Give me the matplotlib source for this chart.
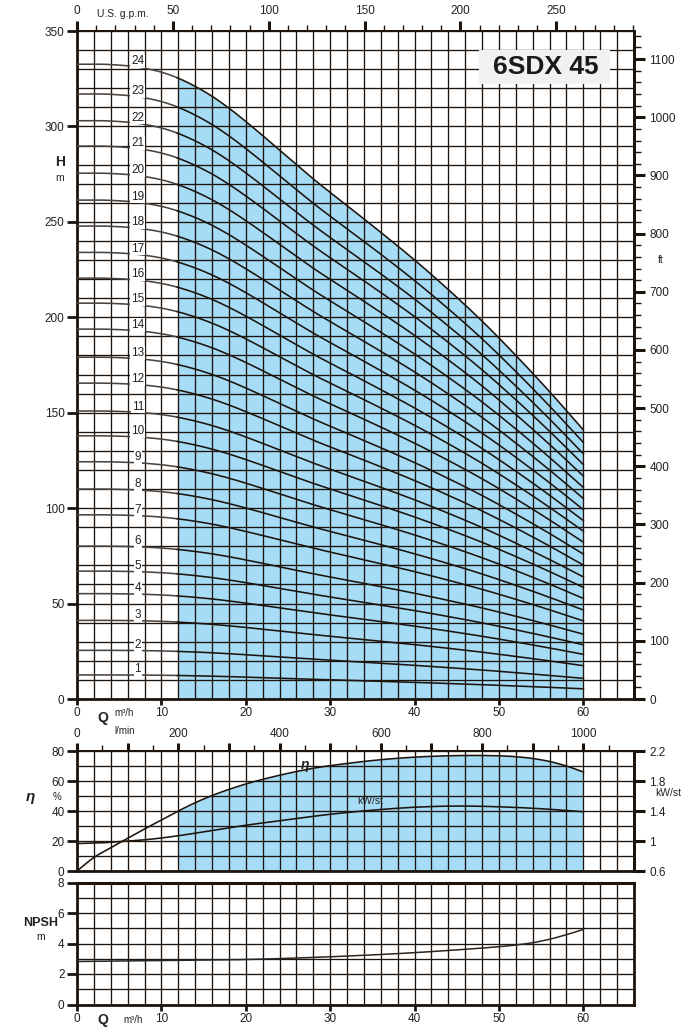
import numpy as np
import matplotlib
matplotlib.use('Agg')
import matplotlib.pyplot as plt
from matplotlib.patches import Rectangle
from matplotlib.ticker import FixedLocator, FuncFormatter

plt.rcParams['font.family'] = ['Liberation Sans', 'DejaVu Sans']

# ---------------- data ----------------
stages = list(range(1, 25))
shutoff_head = [12.6, 25.5, 41.2, 55.2, 67.0, 80.1, 96.5, 110.0, 124.3, 137.9,
                150.9, 165.5, 179.1, 193.8, 207.4, 220.5, 234.0, 247.8, 261.4,
                275.5, 289.7, 303.0, 317.0, 332.6]
# head curve of the 24-stage pump (m) vs Q (m3/h)
q_top = [0, 4, 8, 11, 14, 16, 18, 20, 22, 24, 26, 28, 32, 36, 40, 44, 48, 52, 56, 60]
h_top = [332.6, 332.4, 330.5, 327.0, 321.0, 315.8, 309.6, 302.6, 295.2, 287.6,
         280.0, 272.5, 258.5, 244.5, 230.0, 214.5, 198.0, 180.0, 161.0, 141.0]

# efficiency (%)
q_eta = [0, 2, 4, 6, 8, 10, 12, 14, 16, 18, 20, 23, 26, 28, 32, 36, 40, 44,
         48, 52, 54, 56, 58, 60]
eta = [0, 9.0, 15.5, 21.8, 28.0, 34.0, 40.0, 45.5, 50.3, 54.4, 58.0, 62.5, 66.3,
       68.5, 71.7, 74.2, 75.9, 76.8, 77.0, 76.2, 75.0, 73.0, 70.0, 66.0]
# power per stage (kW/st)
q_kw = [0, 3, 5.5, 8, 10, 12, 16, 20, 24, 28, 32, 36, 40, 45, 50, 55, 60]
kw_st = [0.966, 0.976, 0.996, 1.016, 1.04, 1.07, 1.14, 1.21, 1.27, 1.33, 1.38,
         1.42, 1.45, 1.466, 1.456, 1.43, 1.39]
# NPSH (m)
q_npsh = [0, 10, 20, 30, 40, 45, 48, 50, 52, 54, 56, 58, 60]
npsh = [2.82, 2.88, 2.95, 3.13, 3.40, 3.58, 3.70, 3.79, 3.90, 4.05, 4.28, 4.58, 4.92]

model = '6SDX 45'
Q_MIN, Q_MAX = 12, 60
BLUE = '#a6dcf6'
INK = '#1c140d'


def smooth(xs, ys, n=500):
    xs = np.asarray(xs, float)
    ys = np.asarray(ys, float)
    m = np.gradient(ys, xs)
    xx = np.linspace(xs[0], xs[-1], n)
    i = np.clip(np.searchsorted(xs, xx, side='right') - 1, 0, len(xs) - 2)
    h = xs[i + 1] - xs[i]
    t = (xx - xs[i]) / h
    h00 = 2 * t**3 - 3 * t**2 + 1
    h10 = t**3 - 2 * t**2 + t
    h01 = -2 * t**3 + 3 * t**2
    h11 = t**3 - t**2
    yy = h00 * ys[i] + h10 * h * m[i] + h01 * ys[i + 1] + h11 * h * m[i + 1]
    return xx, yy


fig = plt.figure(figsize=(6.9, 10.28), dpi=100)
L, W = 77 / 690, (634 - 77) / 690
ax = fig.add_axes([L, 1 - 699 / 1028, W, (699 - 31) / 1028])
ax2 = fig.add_axes([L, 1 - 871 / 1028, W, (871 - 751) / 1028])
ax3 = fig.add_axes([L, 1 - 1004.5 / 1028, W, (1004.5 - 882.5) / 1028])

TICKFS = 8.5


def grid(a, xstep, ystep, ymax):
    for x in np.arange(0, 66.01, xstep):
        a.axvline(x, color=INK, lw=0.95, zorder=2)
    for y in np.arange(0, ymax + 0.01, ystep):
        a.axhline(y, color=INK, lw=0.95, zorder=2)


def style(a):
    for s in ['left', 'bottom', 'right']:
        a.spines[s].set_linewidth(2.0)
        a.spines[s].set_color(INK)
    a.spines['top'].set_linewidth(1.4)
    a.spines['top'].set_color(INK)
    a.tick_params(axis='both', which='major', direction='out', length=7,
                  width=2.0, color=INK, labelsize=TICKFS, labelcolor='#222', pad=2)
    a.set_xlim(0, 66)


# ---------------- main head chart ----------------
style(ax)
ax.set_ylim(0, 350)
grid(ax, 2, 10, 350)
xs, base = smooth(q_top, h_top)
mask = (xs >= Q_MIN) & (xs <= Q_MAX)
ax.fill_between(xs[mask], 0, base[mask], color=BLUE, lw=0, zorder=1)
left = xs <= Q_MIN + 0.1
right = xs >= Q_MIN - 0.1
for n, h0 in zip(stages, shutoff_head):
    hh = base * h0 / h_top[0]
    ax.plot(xs[left], hh[left], color='#4a4440', lw=1.15, zorder=3)
    ax.plot(xs[right], hh[right], color=INK, lw=1.15, zorder=3)
    ylab = np.interp(7.2, xs, hh) + 3.0
    ax.text(7.2, ylab, str(n), fontsize=8.5, ha='center', va='center', color='#222',
            zorder=4, bbox=dict(facecolor='white', edgecolor='none', pad=0.6))
ax.set_xticks(np.arange(0, 61, 10))
ax.set_yticks(np.arange(0, 351, 50))
ax.tick_params(axis='x', which='major', length=4)

ax.add_patch(Rectangle((47.6, 322.2), 15.6, 17.8, facecolor='#f1f1f1', edgecolor='none', zorder=4))
ax.text(55.5, 331.0, model, fontsize=19, fontweight='bold', ha='center', va='center',
        color='#1a1a1a', zorder=5)

ft = ax.secondary_yaxis('right', functions=(lambda m: m * 3.28084, lambda f: f / 3.28084))
ft.set_yticks(np.arange(0, 1101, 100))
ft.yaxis.set_minor_locator(FixedLocator(np.arange(0, 1141, 20)))
ft.tick_params(which='major', direction='out', length=8, width=2.2, color=INK,
               labelsize=TICKFS, labelcolor='#222', pad=3)
ft.tick_params(which='minor', direction='out', length=5, width=1.0, color=INK)
ft.spines['right'].set_linewidth(2.0)

gpm = ax.secondary_xaxis('top', functions=(lambda q: q * 4.40287, lambda g: g / 4.40287))
gpm.set_xticks(np.arange(0, 251, 50))
gpm.xaxis.set_minor_locator(FixedLocator(np.arange(0, 291, 10)))
gpm.tick_params(which='major', direction='out', length=7, width=2.2, color=INK,
                labelsize=TICKFS, labelcolor='#222', pad=3)
gpm.tick_params(which='minor', direction='out', length=4, width=1.0, color=INK)
gpm.spines['top'].set_linewidth(1.4)

ax.text(0.0826, 1.0254, 'U.S. g.p.m.', transform=ax.transAxes, fontsize=7.5,
        ha='center', va='center', color='#222')
ax.text(-0.0305, 0.804, 'H', transform=ax.transAxes, fontsize=10, fontweight='bold',
        ha='center', va='center', color='#222')
ax.text(-0.0305, 0.78, 'm', transform=ax.transAxes, fontsize=7.5,
        ha='center', va='center', color='#222')
ax.text(1.048, 0.657, 'ft', transform=ax.transAxes, fontsize=7.5,
        ha='center', va='center', color='#222')
ax.text(0.0467, -0.0284, 'Q', transform=ax.transAxes, fontsize=10, fontweight='bold',
        ha='center', va='center', color='#222')
ax.text(0.085, -0.021, 'm³/h', transform=ax.transAxes, fontsize=7,
        ha='center', va='center', color='#222')
ax.text(0.085, -0.048, 'l/min', transform=ax.transAxes, fontsize=7,
        ha='center', va='center', color='#222')

# ---------------- efficiency / power ----------------
style(ax2)
ax2.set_ylim(0, 80)
grid(ax2, 2, 10, 80)
qe, ee = smooth(q_eta, eta)
me = (qe >= Q_MIN) & (qe <= Q_MAX)
ax2.fill_between(qe[me], 0, ee[me], color=BLUE, lw=0, zorder=1)
ax2.plot(qe, ee, color=INK, lw=1.15, zorder=3)
qk, kk = smooth(q_kw, kw_st)
kk_pct = (kk - 0.6) / 0.02
ax2.plot(qk, kk_pct, color=INK, lw=1.15, zorder=3)
ax2.set_yticks(np.arange(0, 81, 20))
ax2.set_xticks([])
ax2.text(27, 70.5, 'η', fontsize=10, fontweight='bold', style='italic',
         ha='center', va='center', color='#222', zorder=4)
ax2.text(34.7, 46.7, 'kW/st', fontsize=7.5, ha='center', va='center', color='#222', zorder=4)

kw = ax2.secondary_yaxis('right', functions=(lambda e: 0.6 + 0.02 * e, lambda k: (k - 0.6) / 0.02))
kw.set_yticks([0.6, 1.0, 1.4, 1.8, 2.2])
kw.yaxis.set_major_formatter(FuncFormatter(lambda v, p: f'{v:g}'))
kw.tick_params(which='major', direction='out', length=8, width=2.2, color=INK,
               labelsize=TICKFS, labelcolor='#222', pad=3)
kw.spines['right'].set_linewidth(2.0)

lmin = ax2.secondary_xaxis('top', functions=(lambda q: q * 1000 / 60, lambda l: l * 60 / 1000))
lmin.set_xticks(np.arange(0, 1001, 100))
lmin.xaxis.set_major_formatter(FuncFormatter(lambda v, p: f'{v:.0f}' if round(v) % 200 == 0 else ''))
lmin.xaxis.set_minor_locator(FixedLocator(np.arange(50, 1100, 100)))
lmin.tick_params(which='major', direction='out', length=6, width=2.2, color=INK,
                 labelsize=TICKFS, labelcolor='#222', pad=2)
lmin.tick_params(which='minor', direction='out', length=4, width=1.0, color=INK)
lmin.spines['top'].set_linewidth(1.4)

ax2.text(-0.0844, 0.617, 'η', transform=ax2.transAxes, fontsize=11, fontweight='bold',
         style='italic', ha='center', va='center', color='#222')
ax2.text(-0.036, 0.617, '%', transform=ax2.transAxes, fontsize=7,
         ha='center', va='center', color='#222')
ax2.text(1.0377, 0.65, 'kW/st', transform=ax2.transAxes, fontsize=7.5,
         ha='left', va='center', color='#222')

# ---------------- NPSH ----------------
style(ax3)
ax3.set_ylim(0, 8)
grid(ax3, 2, 1, 8)
qn, nn = smooth(q_npsh, npsh)
ax3.plot(qn, nn, color='#2a2420', lw=1.1, zorder=3)
ax3.set_yticks(np.arange(0, 9, 2))
ax3.set_xticks(np.arange(0, 61, 10))
ax3.tick_params(axis='x', which='major', length=4)
ax3.spines['top'].set_linewidth(2.2)
ax3.text(-0.066, 0.668, 'NPSH', transform=ax3.transAxes, fontsize=9, fontweight='bold',
         ha='center', va='center', color='#222')
ax3.text(-0.066, 0.553, 'm', transform=ax3.transAxes, fontsize=7.5,
         ha='center', va='center', color='#222')
ax3.text(0.0467, -0.127, 'Q', transform=ax3.transAxes, fontsize=10, fontweight='bold',
         ha='center', va='center', color='#222')
ax3.text(0.1, -0.127, 'm³/h', transform=ax3.transAxes, fontsize=7,
         ha='center', va='center', color='#222')

fig.savefig('out.png', dpi=100)
